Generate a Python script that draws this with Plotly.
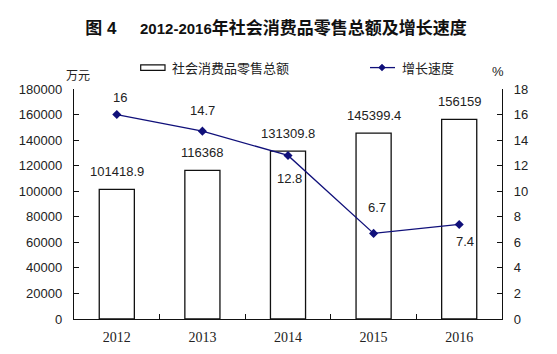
import plotly.graph_objects as go

# ---- data ----
years = ["2012", "2013", "2014", "2015", "2016"]
sales = [101418.9, 116368, 131309.8, 145399.4, 156159]
sales_labels = ["101418.9", "116368", "131309.8", "145399.4", "156159"]
growth = [16, 14.7, 12.8, 6.7, 7.4]
growth_labels = ["16", "14.7", "12.8", "6.7", "7.4"]
sales_name = "社会消费品零售总额"
growth_name = "增长速度"
title_main = "2012-2016"
title_cn = "年社会消费品零售总额及增长速度"

# ---- layout geometry (pixels) ----
W, H = 557, 354
L, R, T, B = 74, 502, 88.5, 319.5

def px(x):
    return (x - L) / (R - L)

def py(y):
    return (B - y) / (B - T)

growth_xshift = [3, 0, 1, 3, 6]
growth_yshift = [17, 21, -23, 26, -17]

NAVY = "#10107a"
SANS = "Liberation Sans, Arial, Noto Sans CJK SC"
CJK = "Noto Sans CJK SC, Liberation Sans"

fig = go.Figure()
fig.add_trace(go.Bar(
    x=years, y=sales, name=sales_name, width=0.41,
    marker=dict(color="white", line=dict(color="#111111", width=1.3)),
    showlegend=False, hoverinfo="skip",
))
fig.add_trace(go.Scatter(
    x=years, y=growth, name=growth_name, yaxis="y2", mode="lines+markers",
    line=dict(color=NAVY, width=1.3),
    marker=dict(symbol="diamond", size=7, color=NAVY),
    showlegend=False, hoverinfo="skip",
))

ann = []
# category axis: annotations placed by category index
for i, (v, t) in enumerate(zip(sales, sales_labels)):
    ann.append(dict(x=i, y=v, xref="x", yref="y", text=t, showarrow=False,
                    yshift=18, font=dict(family=SANS, size=13, color="#222222")))
for i, (v, t, dx, dy) in enumerate(zip(growth, growth_labels, growth_xshift, growth_yshift)):
    ann.append(dict(x=i, y=v, xref="x", yref="y2", text=t, showarrow=False,
                    xshift=dx, yshift=dy, font=dict(family=SANS, size=13, color="#222222")))

# legend (manual)
ann.append(dict(x=px(170), y=py(67), xref="paper", yref="paper", text=sales_name,
                xanchor="left", yanchor="middle", showarrow=False,
                font=dict(family=CJK, size=13, color="#222222")))
ann.append(dict(x=px(400), y=py(67), xref="paper", yref="paper", text=growth_name,
                xanchor="left", yanchor="middle", showarrow=False,
                font=dict(family=CJK, size=13, color="#222222")))
# unit labels
ann.append(dict(x=px(77.5), y=py(74), xref="paper", yref="paper", text="万元",
                xanchor="center", yanchor="middle", showarrow=False,
                font=dict(family=CJK, size=12, color="#222222")))
ann.append(dict(x=px(498), y=py(71), xref="paper", yref="paper", text="%",
                xanchor="center", yanchor="middle", showarrow=False,
                font=dict(family=SANS, size=13, color="#222222")))

d = 3.5
shapes = [
    dict(type="rect", xref="paper", yref="paper", x0=px(140.7), x1=px(165),
         y0=py(69.7), y1=py(64.3), line=dict(color="#111111", width=1.2), fillcolor="white"),
    dict(type="line", xref="paper", yref="paper", x0=px(370), x1=px(395),
         y0=py(67), y1=py(67), line=dict(color=NAVY, width=1.3)),
    dict(type="path", xref="paper", yref="paper",
         path=f"M {px(382-d)} {py(67)} L {px(382)} {py(67-d)} L {px(382+d)} {py(67)} L {px(382)} {py(67+d)} Z",
         fillcolor=NAVY, line=dict(color=NAVY, width=0.5)),
]

title_text = ("图 4&nbsp;&nbsp;&nbsp;&nbsp;&nbsp;"
              f"<span style='font-size:15px'>{title_main}</span>{title_cn}")

fig.update_layout(
    width=W, height=H,
    margin=dict(l=L, r=W - R, t=T, b=H - B, pad=0, autoexpand=False),
    paper_bgcolor="white", plot_bgcolor="white",
    title=dict(text=f"<b>{title_text}</b>", x=276 / W, xanchor="center",
               y=1 - 28 / H, yanchor="middle", xref="container", yref="container",
               font=dict(family=SANS, size=17, color="#111111")),
    xaxis=dict(type="category", range=[-0.5, len(years) - 0.5], showline=True,
               linecolor="#111111", linewidth=1.3, automargin=False,
               ticks="inside", ticklen=5, tickcolor="#111111", tickwidth=1.3,
               tickson="boundaries", showgrid=False, zeroline=False,
               ticklabelstandoff=5, tickangle=0,
               tickfont=dict(family="Liberation Serif, DejaVu Serif", size=14, color="#222222")),
    yaxis=dict(range=[0, 180000], dtick=20000, tickformat="d", showline=True,
               linecolor="#111111", automargin=False,
               linewidth=1.3, ticks="inside", ticklen=5, tickcolor="#111111", tickwidth=1.3,
               showgrid=False, zeroline=False, ticklabelstandoff=8,
               tickfont=dict(family=SANS, size=13, color="#222222")),
    yaxis2=dict(range=[0, 18], dtick=2, overlaying="y", side="right", showline=True,
                linecolor="#111111", linewidth=1.3, ticks="inside", ticklen=5,
                tickcolor="#111111", tickwidth=1.3, showgrid=False, zeroline=False,
                ticklabelstandoff=8, automargin=False,
                tickfont=dict(family=SANS, size=13, color="#222222")),
    annotations=ann, shapes=shapes, showlegend=False,
)

fig.write_html("out.html")
